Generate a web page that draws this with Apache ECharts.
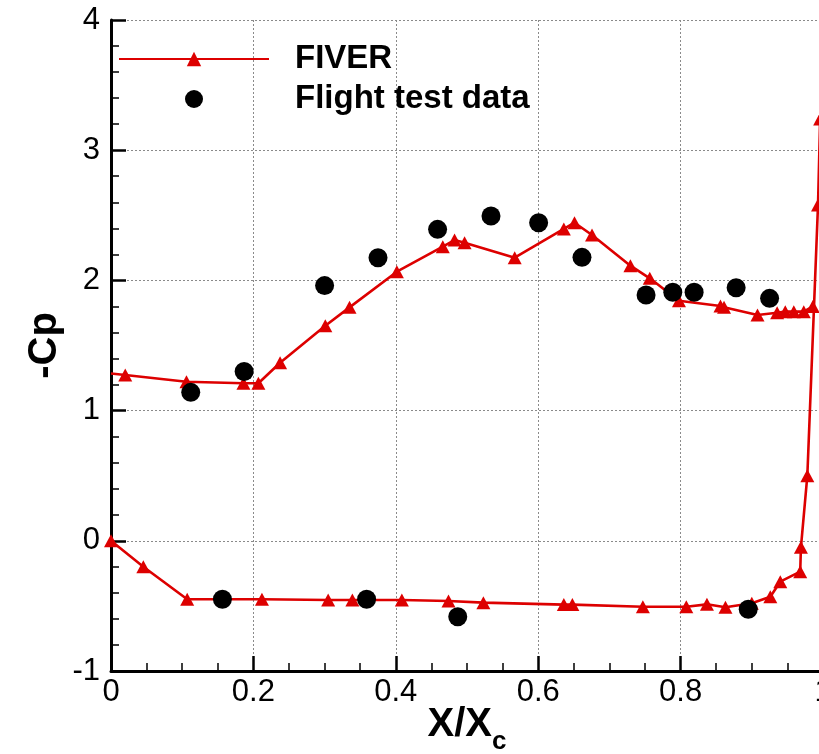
<!DOCTYPE html>
<html>
<head>
<meta charset="utf-8">
<script src="https://cdn.jsdelivr.net/npm/echarts@6/dist/echarts.min.js"></script>
<style>html,body{margin:0;padding:0;background:#fff;}#c{width:819px;height:754px;}</style>
</head>
<body>
<div id="c"></div>
<script>
// FIVER upper surface (leading edge -> trailing edge)
const upperX = [0.0,0.020,0.106,0.186,0.207,0.2375,0.301,0.335,0.4015,0.466,0.4825,0.4966,0.567,0.636,0.651,0.6756,0.7295,0.7567,0.7977,0.856,0.861,0.908,0.9356,0.947,0.959,0.973,0.9857];
const upperY = [1.285,1.273,1.222,1.21,1.21,1.368,1.652,1.793,2.067,2.259,2.31,2.29,2.174,2.395,2.443,2.349,2.113,2.016,1.844,1.803,1.793,1.734,1.752,1.76,1.76,1.76,1.80];
// FIVER lower surface (leading edge -> trailing edge)
const lowerX = [0.0,0.0454,0.107,0.212,0.305,0.339,0.4085,0.474,0.523,0.636,0.648,0.747,0.808,0.837,0.863,0.900,0.926,0.940,0.968,0.969,0.978,0.993,0.996];
const lowerY = [0.0,-0.199,-0.449,-0.449,-0.455,-0.455,-0.455,-0.462,-0.475,-0.49,-0.49,-0.506,-0.506,-0.488,-0.511,-0.48,-0.429,-0.314,-0.237,-0.05,0.50,2.58,3.24];
const flightX = [0.112,0.187,0.300,0.375,0.4587,0.5337,0.6006,0.6615,0.7515,0.789,0.819,0.878,0.925,0.1565,0.359,0.487,0.895];
const flightY = [1.14,1.30,1.96,2.174,2.392,2.495,2.443,2.177,1.888,1.909,1.909,1.944,1.862,-0.449,-0.449,-0.583,-0.526];
const seriesNames = ['FIVER','Flight test data'];
const xTicks = {min:0, max:1, interval:0.2};
const yTicks = {min:-1, max:4, interval:1};

const upperData = upperX.map((x,i)=>{
  const d = {value:[x, upperY[i]]};
  if (i === 0) d.symbolSize = 0; // hidden under axis
  return d;
});
const lowerData = lowerX.map((x,i)=>[x, lowerY[i]]);
const flightData = flightX.map((x,i)=>[x, flightY[i]]);

const chart = echarts.init(document.getElementById('c'), null, {renderer:'canvas'});
const FONT = '"Liberation Sans", Arial, sans-serif';
const RED = '#dd0000';
const axisLine = {show:true, onZero:false, lineStyle:{color:'#000', width:3}};
const axisTick = {show:true, inside:true, length:15, lineStyle:{color:'#000', width:2.5}};
const splitLine = {show:true, lineStyle:{color:'#8a8a8a', width:1, type:[2,2]}};
const fiverStyle = {type:'line', symbol:'triangle', symbolSize:[14,13],
  itemStyle:{color:RED}, lineStyle:{color:RED, width:2.6}, z:2, clip:true};
chart.setOption({
  animation:false,
  backgroundColor:'#fff',
  grid:{left:111, top:20, right:-4, bottom:83, containLabel:false, outerBoundsMode:'none'},
  legend:{
    orient:'vertical', left:113, top:34, itemWidth:150, itemHeight:18, itemGap:0,
    data:seriesNames,
    textStyle:{fontFamily:FONT, fontSize:33, fontWeight:'bold', color:'#000', lineHeight:40, padding:[0,0,0,21]}
  },
  xAxis:{
    type:'value', min:xTicks.min, max:xTicks.max, interval:xTicks.interval,
    axisLine:axisLine, axisTick:axisTick, splitLine:splitLine,
    axisLabel:{fontFamily:FONT, fontSize:31, color:'#000', margin:6, showMaxLabel:true,
      formatter:v=>String(+v.toFixed(1))},
    minorTick:{show:true, splitNumber:4, length:8, lineStyle:{color:'#000', width:1.5}},
    name:'{a|X/X}{b|c}', nameLocation:'middle', nameGap:24, nameMoveOverlap:false,
    nameTextStyle:{rich:{
      a:{fontFamily:FONT, fontSize:40, fontWeight:'bold', color:'#000', lineHeight:60},
      b:{fontFamily:FONT, fontSize:26, fontWeight:'bold', color:'#000', lineHeight:28, verticalAlign:'bottom'}
    }}
  },
  yAxis:{
    type:'value', min:yTicks.min, max:yTicks.max, interval:yTicks.interval,
    axisLine:axisLine, axisTick:axisTick, splitLine:splitLine,
    axisLabel:{fontFamily:FONT, fontSize:31, color:'#000', margin:11},
    minorTick:{show:true, splitNumber:5, length:8, lineStyle:{color:'#000', width:1.5}},
    name:'-Cp', nameLocation:'middle', nameGap:46, nameRotate:90, nameMoveOverlap:false,
    nameTextStyle:{fontFamily:FONT, fontSize:40, fontWeight:'bold', color:'#000'}
  },
  series:[
    Object.assign({name:seriesNames[0], data:upperData}, fiverStyle),
    Object.assign({name:seriesNames[0], data:lowerData}, fiverStyle),
    {name:seriesNames[1], type:'scatter', data:flightData, symbol:'circle', symbolSize:19,
     itemStyle:{color:'#000', opacity:1}, z:3, clip:true}
  ]
});
</script>
</body>
</html>
